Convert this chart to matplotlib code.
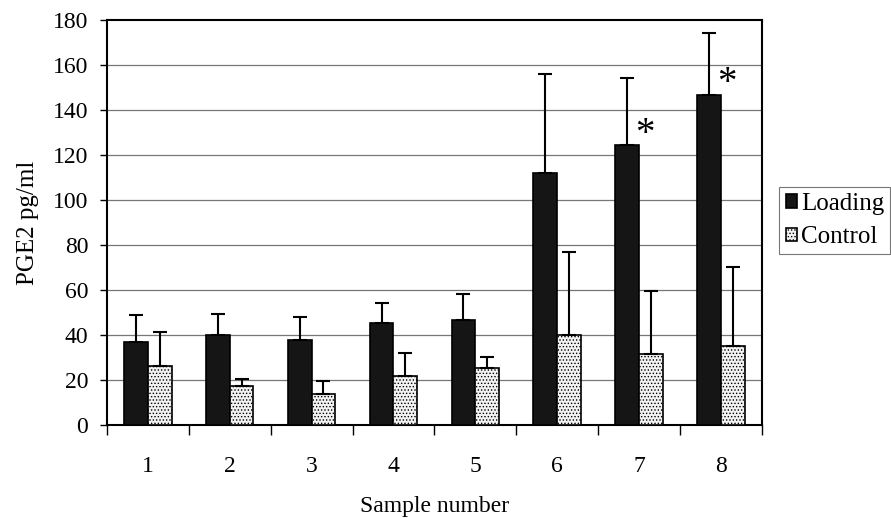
import matplotlib.pyplot as plt
import numpy as np

plt.rcParams['font.family'] = ['Liberation Serif', 'DejaVu Serif']
plt.rcParams['hatch.linewidth'] = 0.6

samples = ['1', '2', '3', '4', '5', '6', '7', '8']
loading = [37.0, 39.9, 37.6, 45.5, 46.5, 112.0, 124.4, 146.8]
loading_err = [12.0, 9.4, 10.3, 8.6, 11.7, 44.0, 29.7, 27.7]
control = [26.4, 17.5, 13.8, 21.8, 25.2, 40.0, 31.4, 35.2]
control_err = [14.9, 3.1, 5.9, 10.1, 5.0, 37.0, 28.2, 34.9]
star_pos = [(7, 129), (8, 152)]

fig = plt.figure(figsize=(8.91, 5.18), dpi=100)
ax = fig.add_axes([0.120, 0.1795, 0.735, 0.7815])

x = np.arange(1, len(samples) + 1)
w = 0.29
zeros = [0] * len(samples)

ax.bar(x - w / 2, loading, w, color='#151515', edgecolor='black', linewidth=1.2,
       label='Loading', zorder=3)
ax.bar(x + w / 2, control, w, color='#f2f2f2', edgecolor='black', linewidth=1.2,
       hatch='.....', label='Control', zorder=3)
ax.errorbar(x - w / 2, loading, yerr=[zeros, loading_err], fmt='none', ecolor='black',
            elinewidth=1.5, capsize=5, capthick=1.5, zorder=4)
ax.errorbar(x + w / 2, control, yerr=[zeros, control_err], fmt='none', ecolor='black',
            elinewidth=1.5, capsize=5, capthick=1.5, zorder=4)

for sx, sy in star_pos:
    ax.text(sx + 0.07, sy, '*', ha='center', va='center', fontsize=28)

ax.set_xlim(0.5, len(samples) + 0.5)
ax.set_ylim(0, 180)
ax.set_yticks(range(0, 181, 20))
ax.set_xticks(x)
ax.set_xticklabels(samples)
ax.set_xticks(np.arange(0.5, len(samples) + 1, 1), minor=True)
ax.tick_params(axis='x', which='major', length=0, pad=22, labelsize=17)
ax.tick_params(axis='x', which='minor', length=7, width=1, direction='out')
ax.tick_params(axis='y', length=5, width=1, pad=8.5, labelsize=17)

for v in range(20, 180, 20):
    ax.axhline(v, color='#777777', linewidth=0.9, zorder=1)

for s in ax.spines.values():
    s.set_linewidth(1.5)

ax.set_xlabel('Sample number', fontsize=17, labelpad=14)
ax.set_ylabel('PGE2 pg/ml', fontsize=18, labelpad=10)

leg = ax.legend(loc='center left', bbox_to_anchor=(1.027, 0.505), fontsize=18,
                frameon=True, fancybox=False, handlelength=0.45, handleheight=0.45,
                handletextpad=0.15, borderpad=0.25, labelspacing=0.45,
                borderaxespad=0.0)
leg.get_frame().set_edgecolor('#555555')
leg.get_frame().set_linewidth(0.8)

fig.savefig('out.png', dpi=100)
